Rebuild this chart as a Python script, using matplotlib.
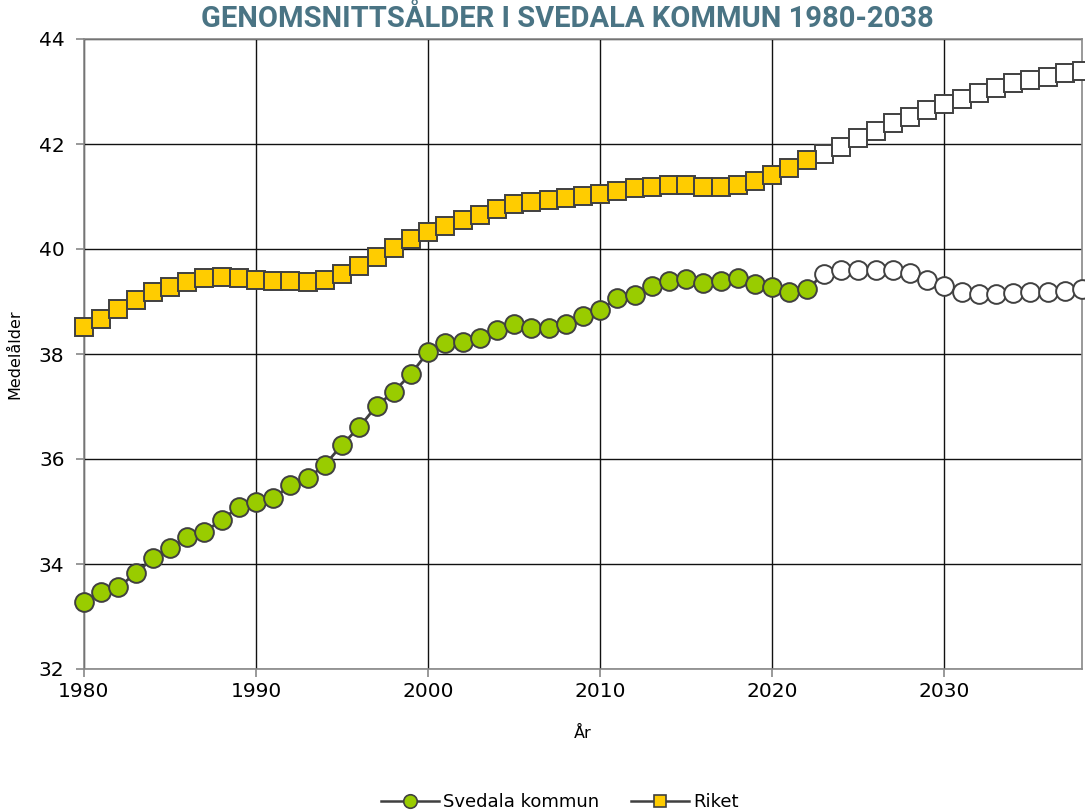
import matplotlib.pyplot as plt
import numpy as np

years = list(range(1980, 2039))
last_actual = 2022

svedala = [33.28, 33.47, 33.56, 33.82, 34.11, 34.30, 34.51, 34.61, 34.84, 35.09,
           35.18, 35.25, 35.50, 35.63, 35.89, 36.27, 36.61, 37.01, 37.28, 37.62,
           38.04, 38.21, 38.23, 38.30, 38.46, 38.57, 38.50, 38.50, 38.57, 38.72,
           38.84, 39.07, 39.12, 39.30, 39.39, 39.43, 39.35, 39.39, 39.44, 39.33,
           39.28, 39.18, 39.23, 39.52, 39.60, 39.60, 39.60, 39.60, 39.54, 39.41,
           39.30, 39.18, 39.14, 39.14, 39.16, 39.18, 39.18, 39.20, 39.24]

riket = [38.51, 38.67, 38.86, 39.03, 39.18, 39.28, 39.37, 39.45, 39.46, 39.44,
         39.41, 39.39, 39.39, 39.38, 39.41, 39.52, 39.68, 39.85, 40.02, 40.19,
         40.32, 40.44, 40.55, 40.65, 40.76, 40.86, 40.90, 40.93, 40.98, 41.01,
         41.04, 41.11, 41.16, 41.18, 41.21, 41.22, 41.18, 41.18, 41.21, 41.30,
         41.41, 41.54, 41.70, 41.81, 41.94, 42.11, 42.25, 42.40, 42.51, 42.65,
         42.76, 42.86, 42.97, 43.07, 43.16, 43.22, 43.28, 43.35, 43.39]

title = "GENOMSNITTSÅLDER I SVEDALA KOMMUN 1980-2038"

line_col = "#404040"
edge_col = "#404040"


def plot_series(ax, x, y, marker, fill, ms, label):
    x = np.array(x)
    y = np.array(y)
    hist = x <= last_actual
    # line through all points
    ax.plot(x, y, color=line_col, lw=2, zorder=3, clip_on=False)
    ax.plot(x[x > last_actual], y[x > last_actual], linestyle="none", marker=marker,
            ms=ms, mfc="white", mec=edge_col, mew=1.4, zorder=4, clip_on=False)
    ax.plot(x[hist], y[hist], linestyle="none", marker=marker, ms=ms,
            mfc=fill, mec=edge_col, mew=1.4, zorder=5, clip_on=False)
    # legend proxy
    ax.plot([], [], color=line_col, lw=1.8, marker=marker, ms=ms * 0.72,
            mfc=fill, mec=edge_col, mew=1.2, label=label)


def main():
    fig = plt.figure(figsize=(10.85, 8.11), dpi=100)
    ax = fig.add_axes([84 / 1085, 1 - 669 / 811, (1082 - 84) / 1085, (669 - 39) / 811])

    plot_series(ax, years, svedala, "o", "#99cc00", 13.5, "Svedala kommun")
    plot_series(ax, years, riket, "s", "#ffcc00", 12.5, "Riket")

    ax.set_xlim(1980, 2038)
    ax.set_ylim(32, 44)
    ax.set_xticks(range(1980, 2031, 10))
    ax.set_yticks(range(32, 45, 2))
    ax.grid(True, color="#111111", lw=1)
    ax.set_axisbelow(True)
    for s in ["top", "right", "left", "bottom"]:
        ax.spines[s].set_color("#888888")
        ax.spines[s].set_linewidth(1.2)
    ax.tick_params(labelsize=14.5, length=6, color="#888888", width=1.2)
    ax.tick_params(axis="y", pad=8)

    ax.set_xlabel("År", fontsize=11.5, labelpad=18)
    ax.set_ylabel("Medelålder", fontsize=11.5, labelpad=12)

    fig.text(0.523, 0.976, title, ha="center", va="center", fontsize=21,
             fontweight="bold", color="#4a7484",
             family=["Roboto", "DejaVu Sans"])

    fig.legend(loc="lower center", bbox_to_anchor=(0.516, -0.02), ncol=2, frameon=False,
               fontsize=13, handlelength=3.2, columnspacing=1.8, handletextpad=0.2)

    fig.savefig("out.png", dpi=100)


if __name__ == "__main__":
    main()
